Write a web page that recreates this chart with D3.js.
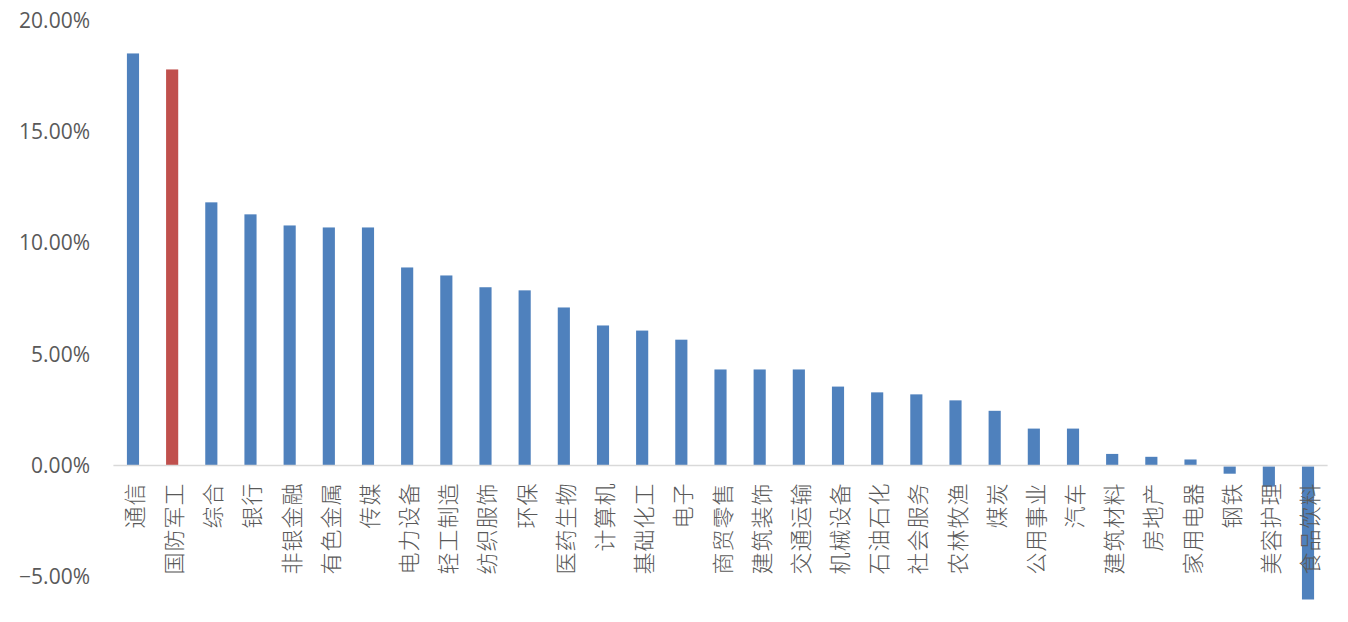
<!DOCTYPE html>
<html>
<head>
<meta charset="utf-8">
<script src="https://cdn.jsdelivr.net/npm/d3@7/dist/d3.min.js"></script>
<style>
  html, body { margin: 0; padding: 0; background: #fff; }
  svg { display: block; }
</style>
</head>
<body>
<svg id="chart" width="1348" height="622"></svg>
<script>
// Industry returns (%), sorted from highest to lowest
const categories = ["通信","国防军工","综合","银行","非银金融","有色金属","传媒","电力设备","轻工制造","纺织服饰","环保","医药生物","计算机","基础化工","电子","商贸零售","建筑装饰","交通运输","机械设备","石油石化","社会服务","农林牧渔","煤炭","公用事业","汽车","建筑材料","房地产","家用电器","钢铁","美容护理","食品饮料"];
const values = [18.54,17.82,11.84,11.30,10.80,10.71,10.71,8.91,8.55,8.02,7.88,7.11,6.30,6.07,5.66,4.32,4.32,4.32,3.55,3.29,3.20,2.93,2.46,1.66,1.66,0.52,0.39,0.27,-0.37,-0.95,-6.03];
const highlighted = ["国防军工"];
const yTicks = [-5, 0, 5, 10, 15, 20];

const svg = d3.select("#chart");
const plot = { left: 113.4, right: 1327.6, top: 21, bottom: 576.6 };

const x = d3.scaleBand()
  .domain(categories)
  .range([plot.left, plot.right])
  .paddingInner(0.69)
  .paddingOuter(0.345);

const y = d3.scaleLinear()
  .domain([-5, 20])
  .range([plot.bottom, plot.top]);

// Y axis: labels only, no line or ticks
const yAxis = d3.axisLeft(y)
  .tickValues(yTicks)
  .tickSize(0)
  .tickPadding(0)
  .tickFormat(d => d3.format(".2f")(d) + "%");

const yg = svg.append("g")
  .attr("transform", "translate(90,0)")
  .call(yAxis);
yg.select(".domain").remove();
yg.selectAll("text")
  .attr("fill", "#595959")
  .attr("font-family", "'Open Sans', 'Noto Sans', sans-serif")
  .attr("font-size", "21px");

// Bars
svg.append("g")
  .selectAll("rect")
  .data(categories.map((c, i) => ({ c, v: values[i] })))
  .join("rect")
  .attr("x", d => x(d.c))
  .attr("width", x.bandwidth())
  .attr("y", d => d.v >= 0 ? y(d.v) : y(0) + 1)
  .attr("height", d => d.v >= 0 ? y(0) - y(d.v) : y(d.v) - y(0) - 1)
  .attr("fill", d => highlighted.includes(d.c) ? "#C0504D" : "#4F81BD");

// Zero baseline
svg.append("line")
  .attr("x1", plot.left)
  .attr("x2", plot.right)
  .attr("y1", y(0))
  .attr("y2", y(0))
  .attr("stroke", "#D9D9D9")
  .attr("stroke-width", 1.5);

// Category labels, rotated to read bottom-to-top, ending just below the baseline
const labelTop = y(0) + 17;
svg.append("g")
  .selectAll("text")
  .data(categories)
  .join("text")
  .attr("transform", d => `translate(${x(d) + x.bandwidth() / 2},${labelTop}) rotate(-90)`)
  .attr("text-anchor", "end")
  .attr("dominant-baseline", "central")
  .attr("fill", "#595959")
  .attr("font-family", "'Noto Sans CJK SC', sans-serif")
  .attr("font-weight", 300)
  .attr("font-size", "22px")
  .attr("letter-spacing", "1px")
  .text(d => d);
</script>
</body>
</html>
